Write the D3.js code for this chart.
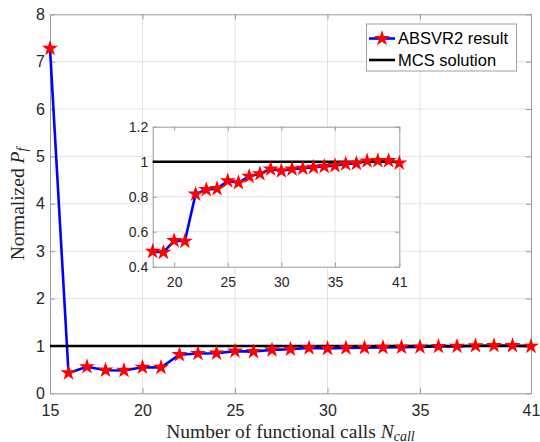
<!DOCTYPE html>
<html>
<head>
<meta charset="utf-8">
<script src="https://cdn.jsdelivr.net/npm/d3@7"></script>
<style>
  body { margin: 0; background: #fff; }
  svg { display: block; }
  .tick text { font-family: "Liberation Sans", Arial, sans-serif; fill: #262626; }
</style>
</head>
<body>
<div id="chart"></div>
<script>
// data
const calls = [15, 16, 17, 18, 19, 20, 21, 22, 23, 24, 25, 26, 27, 28,
               29, 30, 31, 32, 33, 34, 35, 36, 37, 38, 39, 40, 41];
const pfNorm = [7.28, 0.43, 0.56, 0.487, 0.482, 0.549, 0.545, 0.815, 0.84, 0.846,
                0.89, 0.88, 0.916, 0.931, 0.958, 0.947, 0.958, 0.962, 0.968,
                0.973, 0.977, 0.987, 0.99, 1.004, 1.006, 1.006, 0.992];
const mcsValue = 1;
const mainXTicks = [15, 20, 25, 30, 35, 41];
const mainYTicks = [0, 1, 2, 3, 4, 5, 6, 7, 8];
const insetXTicks = [20, 25, 30, 35, 41];
const insetYTicks = [0.4, 0.6, 0.8, 1, 1.2];
const legendLabels = ['ABSVR2 result', 'MCS solution'];

const W = 540, H = 442;
const blue = '#0000ff', red = '#ff0000', axisCol = '#9a9a9a', gridCol = '#e3e3e3';
const star = d3.symbol().type(d3.symbolStar);

const svg = d3.select('#chart').append('svg').attr('width', W).attr('height', H);

const points = calls.map((c, i) => ({ x: c, y: pfNorm[i] }));

function drawPanel(g, x, y, xTicks, yTicks, data, opts) {
  const [x0, x1] = x.range();
  const [y0, y1] = y.range();
  g.append('rect').attr('x', x0).attr('y', y1).attr('width', x1 - x0).attr('height', y0 - y1)
    .attr('fill', '#fff');

  // grid
  g.append('g').selectAll('line').data(xTicks.slice(1, -1)).enter().append('line')
    .attr('x1', d => x(d)).attr('x2', d => x(d)).attr('y1', y0).attr('y2', y1)
    .attr('stroke', gridCol).attr('stroke-width', 1);
  g.append('g').selectAll('line').data(yTicks.slice(1, -1)).enter().append('line')
    .attr('x1', x0).attr('x2', x1).attr('y1', d => y(d)).attr('y2', d => y(d))
    .attr('stroke', gridCol).attr('stroke-width', 1);

  // axes with inward ticks
  const tl = opts.tick;
  const ax = g.append('g').attr('transform', `translate(0,${y0})`)
    .call(d3.axisBottom(x).tickValues(xTicks).tickSizeInner(-tl).tickSizeOuter(0).tickPadding(opts.xpad));
  const ay = g.append('g').attr('transform', `translate(${x0},0)`)
    .call(d3.axisLeft(y).tickValues(yTicks).tickSizeInner(-tl).tickSizeOuter(0).tickPadding(opts.ypad)
      .tickFormat(d => String(d)));
  const at = g.append('g').attr('transform', `translate(0,${y1})`)
    .call(d3.axisTop(x).tickValues(xTicks).tickSizeInner(-tl).tickSizeOuter(0).tickFormat(''));
  const ar = g.append('g').attr('transform', `translate(${x1},0)`)
    .call(d3.axisRight(y).tickValues(yTicks).tickSizeInner(-tl).tickSizeOuter(0).tickFormat(''));
  [ax, ay, at, ar].forEach(a => {
    a.select('.domain').attr('stroke', axisCol);
    a.selectAll('.tick line').attr('stroke', axisCol);
    a.selectAll('.tick text').style('font-size', opts.font + 'px');
  });

  // series
  g.append('path').datum(data)
    .attr('d', d3.line().x(d => x(d.x)).y(d => y(d.y)))
    .attr('fill', 'none').attr('stroke', blue).attr('stroke-width', 2.6).attr('stroke-linejoin', 'round');
  g.append('line').attr('x1', x0).attr('x2', x1).attr('y1', y(mcsValue)).attr('y2', y(mcsValue))
    .attr('stroke', '#000').attr('stroke-width', 2.6);
  g.append('g').selectAll('path').data(data).enter().append('path')
    .attr('transform', d => `translate(${x(d.x)},${y(d.y)})`)
    .attr('d', star.size(opts.star)).attr('fill', red);
}

// main axes
const mx = d3.scaleLinear().domain([15, 41]).range([50, 531]);
const my = d3.scaleLinear().domain([0, 8]).range([393.3, 14.3]);
drawPanel(svg.append('g'), mx, my, mainXTicks, mainYTicks, points,
  { tick: 5, xpad: 11, ypad: 5, font: 16, star: 80 });

// x label
const xl = svg.append('text').attr('x', 290.5).attr('y', 437.5).attr('text-anchor', 'middle')
  .style('font-family', '"Liberation Serif", "Times New Roman", serif').style('font-size', '19.5px').attr('fill', '#262626');
xl.append('tspan').text('Number of functional calls ');
xl.append('tspan').style('font-style', 'italic').text('N');
xl.append('tspan').style('font-style', 'italic').style('font-size', '14px').attr('dy', 3).text('call');

// y label
const yl = svg.append('text').attr('transform', 'translate(24,204) rotate(-90)').attr('text-anchor', 'middle')
  .style('font-family', '"Liberation Serif", "Times New Roman", serif').style('font-size', '19.5px').attr('fill', '#262626');
yl.append('tspan').text('Normalized ');
yl.append('tspan').style('font-style', 'italic').text('P');
yl.append('tspan').style('font-style', 'italic').style('font-size', '14px').attr('dy', 3).text('f');

// legend
const lg = svg.append('g');
lg.append('rect').attr('x', 366.5).attr('y', 24).attr('width', 150).attr('height', 47)
  .attr('fill', '#fff').attr('stroke', '#a0a0a0').attr('stroke-width', 1);
legendLabels.forEach((lab, i) => {
  const yy = 38.5 + i * 21.5;
  lg.append('line').attr('x1', 369).attr('x2', 395).attr('y1', yy).attr('y2', yy)
    .attr('stroke', i === 0 ? blue : '#000').attr('stroke-width', 2.6);
  if (i === 0) lg.append('path').attr('transform', `translate(382,${yy})`).attr('d', star.size(80)).attr('fill', red);
  lg.append('text').attr('x', 398).attr('y', yy).attr('dy', '0.36em')
    .style('font-family', '"Liberation Sans", Arial, sans-serif').style('font-size', '16.5px').attr('fill', '#000').text(lab);
});

// inset
const insetPts = points.filter(d => d.x >= 18);
const ix = d3.scaleLinear().domain([18, 41]).range([152.7, 399.3]);
const iy = d3.scaleLinear().domain([0.4, 1.2]).range([266.7, 126.7]);
drawPanel(svg.append('g'), ix, iy, insetXTicks, insetYTicks, insetPts,
  { tick: 4, xpad: 10, ypad: 4.5, font: 14, star: 80 });
</script>
</body>
</html>
